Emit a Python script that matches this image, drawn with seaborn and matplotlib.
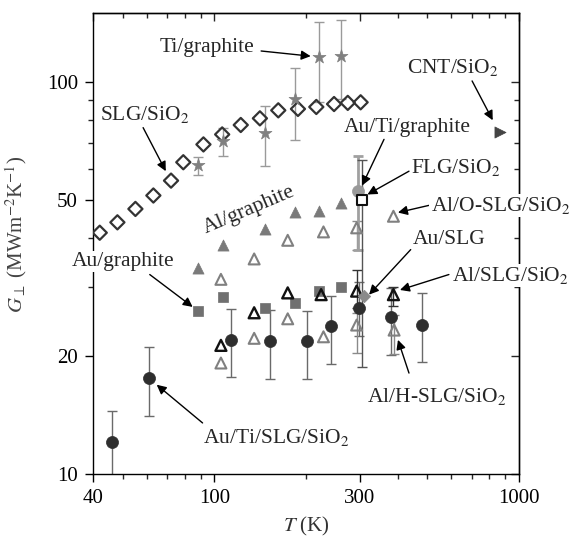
import numpy as np
import pandas as pd
import matplotlib
matplotlib.use("Agg")
import matplotlib.pyplot as plt
import seaborn as sns
from matplotlib.ticker import FixedLocator, NullFormatter, FixedFormatter

# ---------------- data (T in K, G in MW m^-2 K^-1) ----------------
slg_T = [42, 48, 55, 63, 72, 79, 92, 106, 122, 141, 162, 188, 216, 247, 274, 302]
slg_G = [41.3, 43.9, 47.5, 51.4, 56.1, 62.5, 69.4, 73.6, 77.8, 80.9, 84.8, 85.5, 86.5, 88.0, 88.6, 88.9]

ti_T = [88, 107, 147, 184, 220, 260]
ti_G = [61.4, 70.8, 74.1, 90.7, 116.3, 116.8]
ti_lo = [57.9, 64.8, 61.1, 71.2, 89.0, 90.5]
ti_hi = [64.6, 76.6, 87.0, 109.0, 142.9, 144.3]

alg_T = [88, 107, 147, 184, 220, 260]
alg_G = [33.6, 38.5, 42.3, 46.7, 46.9, 49.2]

aug_T = [88, 107, 147, 184, 220, 260]
aug_G = [26.1, 28.3, 26.6, 27.4, 29.3, 30.1]

auti_T = [46, 61, 113, 152, 201, 242, 299, 379, 481]
auti_G = [12.1, 17.6, 22.0, 21.8, 21.8, 23.8, 26.5, 25.2, 24.0]
auti_lo = [9.0, 14.1, 17.7, 17.5, 17.5, 19.1, 22.5, 20.1, 19.3]
auti_hi = [14.5, 21.1, 26.4, 26.2, 26.0, 28.4, 31.0, 29.8, 28.9]

alslg_T = [105, 135, 174, 224, 293, 387]
alslg_G = [21.3, 25.8, 29.0, 28.7, 29.3, 28.7]
alslg_eT = [293, 387]
alslg_eG = [29.3, 28.7]
alslg_elo = [26.5, 26.8]
alslg_ehi = [33.1, 30.1]

alh_T = [105, 135, 174, 228, 293, 389]
alh_G = [19.2, 22.2, 24.9, 22.4, 24.0, 23.3]
alh_eT = [293, 389]
alh_eG = [24.0, 23.3]
alh_elo = [20.4, 20.2]
alh_ehi = [25.8, 25.5]

alo_T = [105, 135, 174, 228, 293, 387]
alo_G = [31.4, 35.4, 39.5, 41.5, 42.5, 45.5]
alo_eT = [293]
alo_eG = [42.5]
alo_elo = [37.4]
alo_ehi = [44.2]

flg_T = [305]
flg_G = [50.2]
flg_lo = [18.8]
flg_hi = [63.3]

autig_T = [296]
autig_G = [52.7]
autig_lo = [37.4]
autig_hi = [65.0]

auslg_T = [310]
auslg_G = [28.4]

cnt_T = [869]
cnt_G = [74.6]

x_major = [40, 100, 300, 1000]
x_minor = [50, 60, 70, 80, 90, 200, 400, 500, 600, 700, 800, 900]
y_major = [10, 20, 50, 100]
y_minor = [30, 40, 60, 70, 80, 90]

# ---------------- style ----------------
sns.set_style("ticks")
plt.rcParams["font.family"] = ["Liberation Serif", "DejaVu Serif"]
plt.rcParams["mathtext.fontset"] = "stix"
plt.rcParams["axes.linewidth"] = 1.0

fig = plt.figure(figsize=(5.72, 5.39), dpi=100)
ax = fig.add_axes([0.1631, 0.1206, 0.7442, 0.8547])
ax.set_xscale("log")
ax.set_yscale("log")
ax.set_xlim(40, 1000)
ax.set_ylim(10, 150)


def ebar(T, G, lo, hi, color, lw=1.0):
    T = np.asarray(T, float); G = np.asarray(G, float)
    lo = np.asarray(lo, float); hi = np.asarray(hi, float)
    ax.errorbar(T, G, yerr=[G - lo, hi - G], fmt="none", ecolor=color,
                elinewidth=lw, capsize=3.5, capthick=lw, zorder=2, clip_on=True)


def pts(T, G, marker, size, face, edge, lw=1.4):
    df = pd.DataFrame({"T": T, "G": G})
    sns.scatterplot(data=df, x="T", y="G", marker=marker, s=size,
                    color=edge, facecolor=face, edgecolor=edge,
                    linewidth=lw, legend=False, ax=ax, zorder=3)


# error bars
ebar(ti_T, ti_G, ti_lo, ti_hi, "#9a9a9a")
ebar(auti_T, auti_G, auti_lo, auti_hi, "#6a6a6a")
ebar(alslg_eT, alslg_eG, alslg_elo, alslg_ehi, "#333333")
ebar(alh_eT, alh_eG, alh_elo, alh_ehi, "#8a8a8a")
ebar(alo_eT, alo_eG, alo_elo, alo_ehi, "#8a8a8a")
ebar(autig_T, autig_G, autig_lo, autig_hi, "#a0a0a0", lw=2.0)
ebar(flg_T, flg_G, flg_lo, flg_hi, "#555555")

# markers
pts(slg_T, slg_G, "D", 52, "none", "#333333", lw=1.6)
pts(ti_T, ti_G, "*", 95, "#808080", "#808080", lw=0.5)
pts(alg_T, alg_G, "^", 64, "#7a7a7a", "#7a7a7a", lw=0.5)
pts(aug_T, aug_G, "s", 44, "#707070", "#707070", lw=0.5)
pts(alo_T, alo_G, "^", 62, "none", "#808080", lw=1.5)
pts(alh_T, alh_G, "^", 62, "none", "#808080", lw=1.5)
pts(alslg_T, alslg_G, "^", 62, "none", "#111111", lw=1.7)
pts(auti_T, auti_G, "o", 75, "#2e2e2e", "#2e2e2e", lw=0.5)
pts(autig_T, autig_G, "o", 75, "#9a9a9a", "#9a9a9a", lw=0.5)
pts(flg_T, flg_G, "s", 48, "white", "#111111", lw=1.5)
pts(auslg_T, auslg_G, "D", 40, "#8a8a8a", "#8a8a8a", lw=0.5)
pts(cnt_T, cnt_G, ">", 64, "#444444", "#444444", lw=0.5)

# ---------------- annotations ----------------
FS = 15.5
arrow = dict(arrowstyle="-|>", color="black", lw=1.0, mutation_scale=14,
             shrinkA=0, shrinkB=0)
white = dict(facecolor="white", edgecolor="none", pad=1.0)


def label(txt, xy, start, end, box=False, **kw):
    t = ax.text(xy[0], xy[1], txt, fontsize=FS, ha="center", va="center",
                zorder=5, clip_on=False, **kw)
    if box:
        t.set_bbox(white)
    if start is not None:
        ax.annotate("", xy=end, xytext=start, arrowprops=arrow, zorder=4)


label("Ti/graphite", (94.6, 122.9), (142.3, 120.2), (207.0, 116.6))
label("SLG/SiO$_2$", (59.1, 82.8), (58.3, 76.6), (69.2, 59.3))
label("Au/graphite", (50.1, 34.9), (61.3, 32.3), (84.8, 26.7), box=True)
label("Au/Ti/SLG/SiO$_2$", (159.7, 12.36), (91.4, 13.5), (64.6, 16.9))
label("Al/H-SLG/SiO$_2$", (537.6, 15.74), (435.3, 18.1), (400.5, 22.0))
label("Au/SLG", (588.6, 39.7), (441.0, 37.4), (321.9, 28.7))
label("Al/SLG/SiO$_2$", (938.9, 32.1), (588.6, 32.3), (406.6, 29.5), box=True)
label("Al/O-SLG/SiO$_2$", (868.9, 48.5), (506.0, 48.5), (400.5, 46.5), box=True)
label("FLG/SiO$_2$", (619.0, 60.5), (435.3, 59.3), (317.9, 51.7))
label("Au/Ti/graphite", (429.8, 76.6), (360.4, 71.5), (305.4, 54.5))
label("CNT/SiO$_2$", (606.6, 109.0), (701.5, 100.8), (820.0, 80.0))
ax.text(130.4, 47.3, "Al/graphite", fontsize=FS, rotation=23,
        rotation_mode="anchor", ha="center", va="center", zorder=5)

# ---------------- axes / ticks ----------------
ax.xaxis.set_major_locator(FixedLocator(x_major))
ax.xaxis.set_major_formatter(FixedFormatter([str(v) for v in x_major]))
ax.xaxis.set_minor_locator(FixedLocator(x_minor))
ax.xaxis.set_minor_formatter(NullFormatter())
ax.yaxis.set_major_locator(FixedLocator(y_major))
ax.yaxis.set_major_formatter(FixedFormatter([str(v) for v in y_major]))
ax.yaxis.set_minor_locator(FixedLocator(y_minor))
ax.yaxis.set_minor_formatter(NullFormatter())
ax.tick_params(which="major", direction="out", length=6, width=1.0,
               labelsize=15, pad=5, colors="black")
ax.tick_params(which="minor", direction="out", length=3.5, width=1.0)

top = ax.secondary_xaxis("top")
top.xaxis.set_major_locator(FixedLocator(x_major))
top.xaxis.set_minor_locator(FixedLocator(x_minor))
top.xaxis.set_major_formatter(NullFormatter())
top.xaxis.set_minor_formatter(NullFormatter())
top.tick_params(which="major", direction="in", length=6, width=1.0)
top.tick_params(which="minor", direction="in", length=3.5, width=1.0)

right = ax.secondary_yaxis("right")
right.yaxis.set_major_locator(FixedLocator(y_major))
right.yaxis.set_minor_locator(FixedLocator(y_minor))
right.yaxis.set_major_formatter(NullFormatter())
right.yaxis.set_minor_formatter(NullFormatter())
right.tick_params(which="major", direction="in", length=6, width=1.0)
right.tick_params(which="minor", direction="in", length=3.5, width=1.0)

for s in ax.spines.values():
    s.set_color("black")
    s.set_linewidth(1.0)

ax.set_xlabel("$T$ (K)", fontsize=15, color="#333333", labelpad=5)
ax.set_ylabel("$G_{\\perp}$ (MWm$^{-2}$K$^{-1}$)", fontsize=15, color="#444444")
ax.yaxis.set_label_coords(-0.15, 0.52)

fig.savefig("out.png", dpi=100)
